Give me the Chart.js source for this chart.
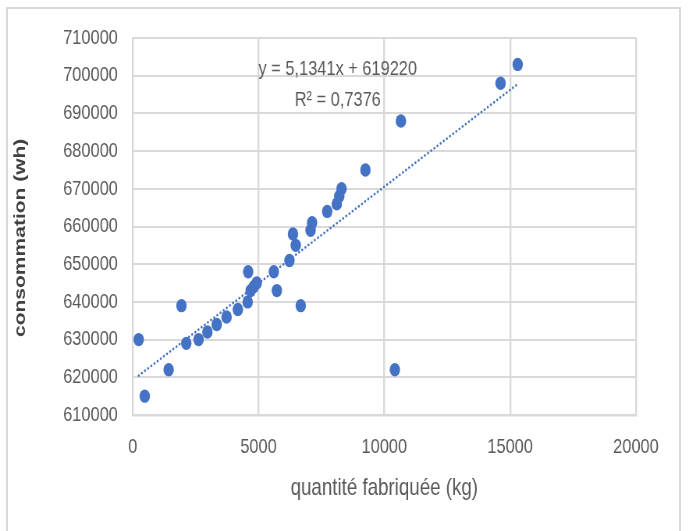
<!DOCTYPE html>
<html>
<head>
<meta charset="utf-8">
<script src="https://cdn.jsdelivr.net/npm/chart.js@4/dist/chart.umd.min.js"></script>
<style>
  html, body { margin: 0; padding: 0; background: #fff; overflow: hidden; }
  #wrap { position: relative; width: 689px; height: 531px; overflow: hidden; }
  #frame { position: absolute; left: 6px; top: 7px; width: 671px; height: 600px; border: 2px solid #d9d9d9; border-bottom: none; }
  /* chart is drawn wide, then squeezed horizontally into the frame */
  #chart { position: absolute; left: 0; top: 0; transform: scaleX(0.7803); transform-origin: 0 0; }
</style>
</head>
<body>
<div id="wrap">
  <div id="frame"></div>
  <canvas id="chart" width="883" height="531"></canvas>
</div>
<script>
// Energy use vs. production, with the linear fit shown as a dotted line.
const qty = [240, 480, 1430, 1940, 2130, 2620, 2970, 3340, 3730, 4180, 4570, 4590, 4690, 4810, 4930,
  5610, 5730, 6230, 6370, 6480, 6680, 7070, 7130, 7730, 8110, 8210, 8300, 9250, 10660, 10420, 14620, 15300];
const conso = [630000, 615000, 622000, 639000, 629000, 630000, 632000, 634000, 636000, 638000, 640000, 648000, 643000, 644000, 645000,
  648000, 643000, 651000, 658000, 655000, 639000, 659000, 661000, 664000, 666000, 668000, 670000, 675000, 688000, 622000, 698000, 703000];
const xTicks = [0, 5000, 10000, 15000, 20000];
const yTicks = [610000, 620000, 630000, 640000, 650000, 660000, 670000, 680000, 690000, 700000, 710000];

const SLOPE = 5.1341;
const INTERCEPT = 619220;
const R2 = 0.7376;

const BLUE = '#4472C4';
const GRID = '#d9d9d9';
const TXT = '#595959';
const FONT = '"Liberation Sans", Arial, sans-serif';
const Y_TITLE = 'consommation (wh)';

const fr = (v, d) => v.toFixed(d).replace('.', ',');
const eqLines = ['y = ' + fr(SLOPE, 4) + 'x + ' + INTERCEPT, 'R² = ' + fr(R2, 4)];

const points = qty.map((x, i) => ({ x, y: conso[i] }));
const xMin = Math.min(...qty), xMax = Math.max(...qty);
const trend = [xMin, xMax].map((x) => ({ x, y: SLOPE * x + INTERCEPT }));

// equation text, anchored in data space near the top of the plot,
// plus the vertical axis title (sits a bit below the plot's centre)
const labels = {
  id: 'labels',
  afterDatasetsDraw(c) {
    const { ctx, scales: { x, y } } = c;
    ctx.save();
    ctx.font = '21px ' + FONT;
    ctx.fillStyle = TXT;
    ctx.textAlign = 'center';
    ctx.textBaseline = 'middle';
    ctx.fillText(eqLines[0], x.getPixelForValue(8150), y.getPixelForValue(701700));
    ctx.fillText(eqLines[1], x.getPixelForValue(8150), y.getPixelForValue(693500));

    ctx.translate(26, y.getPixelForValue(657000));
    ctx.rotate(-Math.PI / 2);
    ctx.font = 'bold 21px ' + FONT;
    ctx.fillStyle = '#404040';
    ctx.fillText(Y_TITLE, 0, 0);
    ctx.restore();
  }
};

new Chart(document.getElementById('chart').getContext('2d'), {
  type: 'scatter',
  data: {
    datasets: [
      { data: points, backgroundColor: BLUE, borderColor: BLUE, borderWidth: 0, pointRadius: 6.7, pointHoverRadius: 6.7 },
      { type: 'line', data: trend, borderColor: BLUE, borderWidth: 2.6, borderDash: [0.1, 4.6], borderCapStyle: 'round',
        pointRadius: 0, fill: false, tension: 0 }
    ]
  },
  plugins: [labels],
  options: {
    responsive: false,
    animation: false,
    layout: { padding: { left: 0, top: 38, right: 68, bottom: 0 } },
    plugins: { legend: { display: false }, tooltip: { enabled: false } },
    scales: {
      x: {
        type: 'linear', min: 0, max: 20000,
        afterBuildTicks: (s) => { s.ticks = xTicks.map((v) => ({ value: v })); },
        afterFit: (s) => { s.height = 116; },
        grid: { color: GRID, lineWidth: 2.4, drawTicks: false },
        border: { color: GRID, width: 2.4 },
        ticks: { color: TXT, font: { family: FONT, size: 21 }, padding: 20, callback: (v) => String(v) },
        title: { display: true, text: 'quantité fabriquée (kg)', color: TXT, font: { family: FONT, size: 24 }, padding: { top: 0, bottom: 28 } }
      },
      y: {
        type: 'linear', min: 610000, max: 710000,
        afterBuildTicks: (s) => { s.ticks = yTicks.map((v) => ({ value: v })); },
        afterFit: (s) => { s.width = 170; },
        grid: { color: GRID, lineWidth: 2, drawTicks: false },
        border: { color: GRID, width: 2 },
        ticks: { color: TXT, font: { family: FONT, size: 21 }, padding: 19, callback: (v) => String(v) },
        title: { display: false }
      }
    }
  }
});
</script>
</body>
</html>
